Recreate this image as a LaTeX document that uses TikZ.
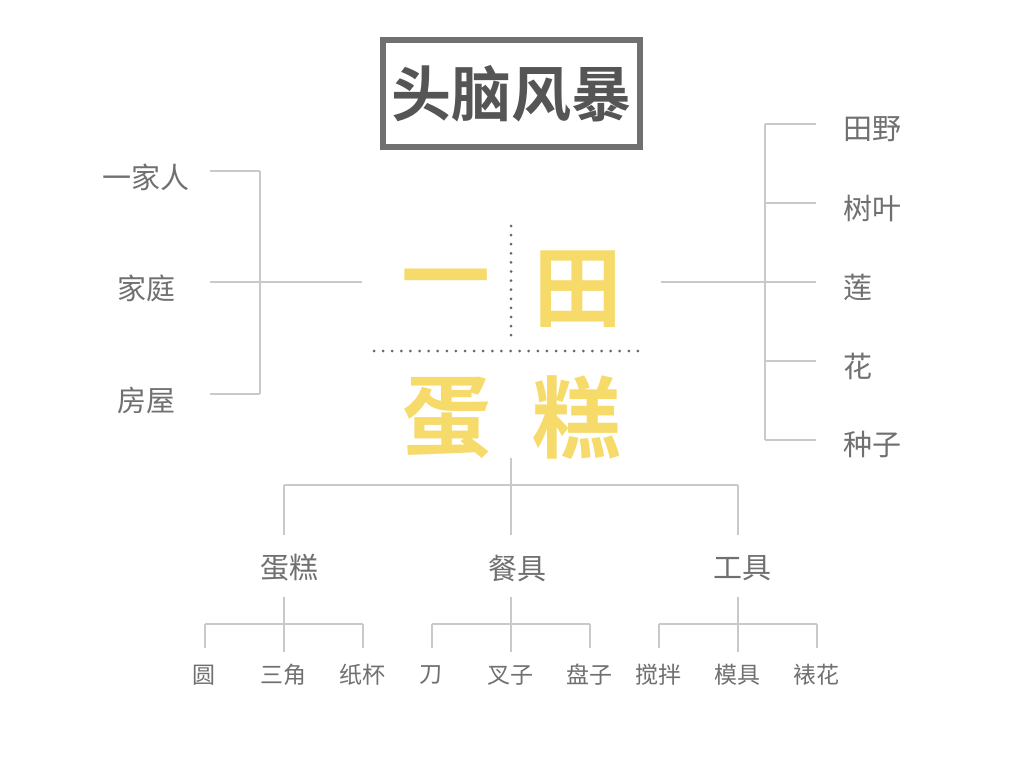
\documentclass[tikz,border=0pt]{standalone}
\usepackage{fontspec}
\setmainfont{Noto Sans CJK SC}[BoldFont={Noto Sans CJK SC Bold}]
\usepackage{xcolor}
\definecolor{giallo}{HTML}{F6DA6A}
\definecolor{lineagrigia}{HTML}{C9C9C9}
\definecolor{testogrigio}{HTML}{707070}
\definecolor{cornice}{HTML}{707070}
\definecolor{titolografia}{HTML}{555555}
\definecolor{puntini}{HTML}{666666}

\begin{document}
\begin{tikzpicture}[x=1pt,y=-1pt,
                    ramo/.style={draw=lineagrigia,line width=2pt},
                    punti/.style={draw=puntini,line width=3pt,line cap=round,dash pattern=on 0pt off 9.1pt},
                    voce/.style={text=testogrigio,inner sep=0pt,font=\fontsize{29}{29}\selectfont},
                    foglia/.style={text=testogrigio,inner sep=0pt,font=\fontsize{23}{23}\selectfont},
                    grande/.style={text=giallo,inner sep=0pt,font=\fontsize{89}{89}\selectfont\bfseries}]
  \useasboundingbox[fill=white] (0,0) rectangle (1024,768);
  \node[draw=cornice,line width=6pt,minimum width=257pt,minimum height=107pt,inner sep=0pt,
        text=titolografia,font=\fontsize{60}{60}\selectfont\bfseries] (titolo) at (511.5,93.5) {头脑风暴};
  \node[grande] (yi) at (446,289) {一};
  \node[grande] (tian) at (578,289) {田};
  \node[grande] (dan) at (447,418) {蛋};
  \node[grande] (gao) at (577,418) {糕};
  \coordinate (vsu) at (511,226);
  \coordinate (vgiu) at (511,344);
  \coordinate (hsx) at (374,351);
  \coordinate (hdx) at (647,351);
  \draw[punti] (vsu) -- (vgiu);
  \draw[punti] (hsx) -- (hdx);
  \coordinate (sx) at (362,282);
  \coordinate (sxj) at (260,282);
  \draw[ramo] (sx) -- (sxj);
  \foreach \y/\t [count=\i] in {171/一家人,282/家庭,394/房屋} {
    \node[voce] (sx\i) at (146,\y+6) {\t};
    \coordinate (sxa\i) at (210,\y);
    \coordinate (sxb\i) at (260,\y);
    \draw[ramo] (sxa\i) -- (sxb\i);
  }
  \draw[ramo] (sxb1) -- (sxb3);
  \coordinate (dx) at (661,282);
  \coordinate (dxj) at (765,282);
  \draw[ramo] (dx) -- (dxj);
  \foreach \y/\t [count=\i] in {124/田野,203/树叶,282/莲,361/花,440/种子} {
    \node[voce,anchor=west] (dx\i) at (843,\y+5) {\t};
    \coordinate (dxa\i) at (765,\y);
    \coordinate (dxb\i) at (816,\y);
    \draw[ramo] (dxa\i) -- (dxb\i);
  }
  \draw[ramo] (dxa1) -- (dxa5);
  \coordinate (giu) at (511,458);
  \foreach \x/\lx/\t/\a/\b/\c [count=\i] in {284/289/蛋糕/圆/三角/纸杯,511/517/餐具/刀/叉子/盘子,738/742/工具/搅拌/模具/裱花} {
    \node[voce] (md\i) at (\lx,568) {\t};
    \coordinate (mda\i) at (\x,485);
    \coordinate (mdb\i) at (\x,535);
    \draw[ramo] (mda\i) -- (mdb\i);
    \coordinate (mdc\i) at (\x,597);
    \coordinate (mde\i) at (\x,652);
    \draw[ramo] (mdc\i) -- (mde\i);
    \foreach \f [count=\j] in {\a,\b,\c} {
      \coordinate (fa\i\j) at (\x+\j*79-158,624);
      \coordinate (fb\i\j) at (\x+\j*79-158,648);
      \draw[ramo] (fa\i\j) -- (fb\i\j);
      \node[foglia] (fo\i\j) at (\x+\j*79-159,675) {\f};
    }
    \draw[ramo] (fa\i1) -- (fa\i3);
  }
  \draw[ramo] (mda1) -- (mda3);
  \draw[ramo] (giu) -- (mdb2);
\end{tikzpicture}
\end{document}
